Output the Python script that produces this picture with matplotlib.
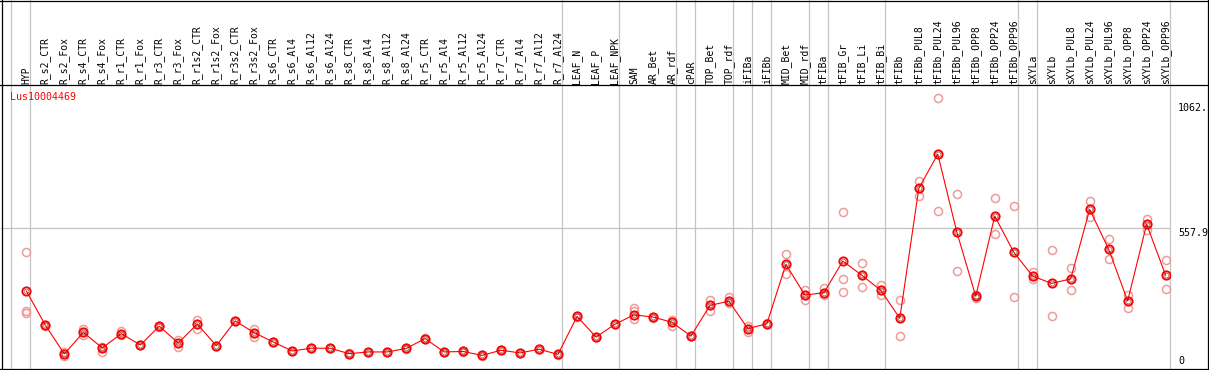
import numpy as np
import matplotlib
matplotlib.use("Agg")
from matplotlib import pyplot as plt
from matplotlib.lines import Line2D
from matplotlib.transforms import blended_transform_factory

# sample names (one column each)
samples = ["HYP",
           "R_s2_CTR", "R_s2_Fox", "R_s4_CTR", "R_s4_Fox", "R_r1_CTR", "R_r1_Fox",
           "R_r3_CTR", "R_r3_Fox", "R_r1s2_CTR", "R_r1s2_Fox", "R_r3s2_CTR", "R_r3s2_Fox",
           "R_s6_CTR", "R_s6_Al4", "R_s6_Al12", "R_s6_Al24",
           "R_s8_CTR", "R_s8_Al4", "R_s8_Al12", "R_s8_Al24",
           "R_r5_CTR", "R_r5_Al4", "R_r5_Al12", "R_r5_Al24",
           "R_r7_CTR", "R_r7_Al4", "R_r7_Al12", "R_r7_Al24",
           "LEAF_N", "LEAF_P", "LEAF_NPK", "SAM", "AR_Bet", "AR_rdf", "cPAR",
           "TOP_Bet", "TOP_rdf", "iFIBa", "iFIBb", "MID_Bet", "MID_rdf",
           "tFIBa", "tFIB_Gr", "tFIB_Li", "tFIB_Bi",
           "tFIBb", "tFIBb_PUL8", "tFIBb_PUL24", "tFIBb_PUL96",
           "tFIBb_OPP8", "tFIBb_OPP24", "tFIBb_OPP96",
           "sXYLa", "sXYLb", "sXYLb_PUL8", "sXYLb_PUL24", "sXYLb_PUL96",
           "sXYLb_OPP8", "sXYLb_OPP24", "sXYLb_OPP96"]

# mean expression per sample
means = [304, 166, 50, 137, 74, 132, 86, 162, 94, 171,
         83, 183, 136, 98, 62, 73, 73, 51, 58, 58,
         72, 112, 58, 60, 44, 65, 54, 69, 48, 202,
         118, 170, 208, 199, 178, 122, 246, 263, 152, 172,
         412, 288, 297, 425, 368, 307, 194, 719, 857, 543,
         283, 607, 461, 364, 335, 353, 634, 473, 264, 574, 368]

# biological replicates per sample
replicates = [[460, 225, 217], [168, 165, 164], [56, 50, 42], [151, 137, 128],
              [79, 74, 59], [141, 132, 125], [87, 86, 85], [164, 162, 160],
              [106, 94, 79], [187, 171, 152], [84, 83, 82], [184, 183, 182],
              [149, 136, 120], [99, 98, 97], [63, 62, 61], [74, 73, 72],
              [74, 73, 72], [52, 51, 50], [59, 58, 57], [59, 58, 57],
              [73, 72, 71], [113, 112, 111], [59, 58, 57], [61, 60, 59],
              [45, 44, 43], [66, 65, 64], [55, 54, 53], [70, 69, 68],
              [49, 48, 47], [203, 202, 201], [119, 118, 117], [171, 170, 169],
              [235, 223, 191], [201, 199, 194], [187, 178, 163], [123, 122, 121],
              [268, 246, 223], [280, 263, 254], [163, 152, 140], [173, 172, 171],
              [452, 412, 372], [308, 288, 268], [315, 297, 288], [622, 351, 299],
              [416, 368, 319], [327, 307, 288], [268, 194, 122], [747, 719, 687],
              [1083, 857, 627], [696, 543, 385], [290, 283, 276], [679, 607, 535],
              [646, 461, 280], [380, 364, 354], [470, 335, 203], [397, 353, 307],
              [667, 634, 603], [513, 473, 433], [288, 264, 234], [595, 574, 549],
              [428, 368, 311]]

# column indices where tissue groups start
group_edges = [0, 1, 29, 32, 35, 36, 38, 39, 40, 42, 43, 46, 53, 54, 61]
y_ticks = [1062, 557.9, 0]
y_tick_labels = ["1062.", "557.9", "0"]
gene = "Lus10004469"

W, H = 1209, 370
fig = plt.figure(figsize=(W / 100, H / 100), dpi=100)
fig.patch.set_facecolor("white")

ax = fig.add_axes([11 / W, 1 - 369 / H, (1170 - 11) / W, (369 - 85) / H])
ax.set_xlim(-0.02, 61.02)
ax.set_ylim(-10.9, 1136.5)
ax.axis("off")

grey = "#c4c4c4"
mono = "DejaVu Sans Mono"
ax_h = 369 - 85
x_ax = blended_transform_factory(ax.transData, ax.transAxes)
fx_y = blended_transform_factory(fig.transFigure, ax.transData)

# group separators, running through the header
for e in group_edges:
    ax.plot([e, e], [0, 368.5 / ax_h], color=grey, lw=0.9,
            transform=x_ax, clip_on=False, zorder=1)

# middle grid line
ax.plot([1 / W, 1170 / W], [557.9, 557.9], color=grey, lw=0.9,
        transform=fx_y, clip_on=False, zorder=1)

x = np.arange(len(samples)) + 0.79

# replicates
for i, reps in enumerate(replicates):
    ax.plot([x[i]] * len(reps), reps, "o", ms=5.8, mfc="none", mec="#f09a9a",
            mew=1.1, zorder=2, clip_on=False)

# mean line
ax.plot(x, means, color="red", lw=0.8, zorder=3)
ax.plot(x, means, "o", ms=6.0, mfc="none", mec="red", mew=1.3, zorder=4)
ax.plot(x, means, "o", ms=3.5, mfc="none", mec="#600000", mew=0.5, alpha=0.7, zorder=5)

# header labels
for i, name in enumerate(samples):
    ax.text(x[i], (369 - 83.5) / ax_h, name, rotation=90, ha="center", va="bottom",
            fontsize=7, family=mono, color="black", transform=x_ax)

fig.text(10 / W, 1 - 97.5 / H, gene, fontsize=7.2, family=mono, color="red",
         va="center", ha="left")

# right-hand value labels
for v, lab in zip(y_ticks, y_tick_labels):
    ax.text(1178 / W, v, lab, transform=fx_y, fontsize=7.2, family=mono,
            va="bottom" if v == 0 else "top", ha="left", color="black")

# frame lines
frame = [((0, 1209), (0.5, 0.5)), ((0, 1209), (85, 85)),
         ((0, 1209), (369, 369)), ((1.5, 1.5), (0, 370)),
         ((1208.3, 1208.3), (0, 370))]
for xs, ys in frame:
    fig.add_artist(Line2D([xs[0] / W, xs[1] / W], [1 - ys[0] / H, 1 - ys[1] / H],
                          color="black", lw=0.9, transform=fig.transFigure))

fig.savefig("out.png", dpi=100)
